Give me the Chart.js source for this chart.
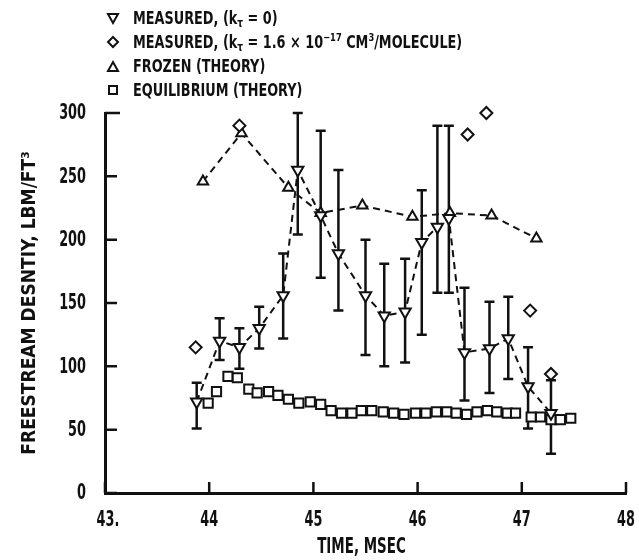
<!DOCTYPE html>
<html>
<head>
<meta charset="utf-8">
<script src="https://cdn.jsdelivr.net/npm/chart.js@4.4.0/dist/chart.umd.min.js"></script>
<style>
  body { margin: 0; background: #fff; }
  #wrap { position: relative; width: 639px; height: 560px; }
  #legend {
    position: absolute; left: 104px; top: 6px;
    font-family: "DejaVu Sans Condensed", "Liberation Sans Narrow", sans-serif;
    font-weight: bold; font-size: 17px; color: #111; line-height: 24px;
  }
  #legend .row { display: flex; align-items: center; white-space: nowrap; height: 24px; }
  #legend svg { width: 18px; height: 14px; margin-right: 11px; flex: none; }
  #legend .txt { display: inline-block; transform: scaleX(0.84); transform-origin: left center; }
  #legend sub { font-size: 12px; vertical-align: -3px; line-height: 0; }
  #legend sup { font-size: 11px; vertical-align: 7px; line-height: 0; }
</style>
</head>
<body>
<div id="wrap">
  <canvas id="densityChart" width="639" height="560"></canvas>
  <div id="legend">
    <div class="row"><svg viewBox="0 0 18 14"><polygon points="4,3 14,3 9,12" fill="#fff" stroke="#111" stroke-width="2"/></svg><span class="txt">MEASURED, (k<sub>τ</sub> = 0)</span></div>
    <div class="row"><svg viewBox="0 0 18 14"><polygon points="9,2 14,7 9,12 4,7" fill="#fff" stroke="#111" stroke-width="2"/></svg><span class="txt">MEASURED, (k<sub>τ</sub> = 1.6 × 10<sup>−17</sup> CM<sup>3</sup>/MOLECULE)</span></div>
    <div class="row"><svg viewBox="0 0 18 14"><polygon points="9,3 14,12 4,12" fill="#fff" stroke="#111" stroke-width="2"/></svg><span class="txt">FROZEN (THEORY)</span></div>
    <div class="row"><svg viewBox="0 0 18 14"><rect x="5" y="3" width="8" height="8" fill="#fff" stroke="#111" stroke-width="2"/></svg><span class="txt">EQUILIBRIUM (THEORY)</span></div>
  </div>
</div>
<script>
// Measured, k_tau = 0 (down triangles with error bars)
const measuredTime = [43.88, 44.10, 44.29, 44.48, 44.71, 44.85, 45.07, 45.24, 45.50, 45.68, 45.88, 46.04, 46.19, 46.30, 46.45, 46.69, 46.87, 47.06, 47.28];
const measuredValue = [72, 120, 115, 130, 156, 255, 219, 189, 156, 140, 143, 198, 210, 217, 111, 114, 122, 84, 63];
const measuredHigh = [87, 138, 130, 147, 189, 300, 286, 255, 200, 181, 185, 239, 290, 290, 162, 151, 155, 115, 89];
const measuredLow = [51, 105, 98, 114, 122, 204, 170, 144, 109, 100, 103, 125, 158, 158, 73, 79, 90, 51, 31];

// Measured, k_tau = 1.6e-17 (diamonds)
const diamondTime = [43.87, 44.29, 46.48, 46.66, 47.08, 47.28];
const diamondValue = [115, 290, 283, 300, 144, 94];

// Frozen theory (up triangles)
const frozenTime = [43.94, 44.31, 44.76, 45.07, 45.47, 45.95, 46.31, 46.71, 47.14];
const frozenValue = [246, 284, 241, 221, 227, 218, 221, 219, 201];

// Equilibrium theory (squares)
const equilTime = [43.99, 44.07, 44.18, 44.27, 44.38, 44.46, 44.57, 44.66, 44.76, 44.86, 44.97, 45.07, 45.17, 45.27, 45.37, 45.46, 45.56, 45.67, 45.77, 45.87, 45.98, 46.08, 46.18, 46.28, 46.37, 46.47, 46.57, 46.67, 46.76, 46.86, 46.94, 47.09, 47.18, 47.28, 47.37, 47.47];
const equilValue = [71, 80, 92, 91, 82, 79, 80, 77, 74, 71, 72, 70, 65, 63, 63, 65, 65, 64, 63, 62, 63, 63, 64, 64, 63, 62, 64, 65, 64, 63, 63, 60, 60, 58, 58, 59];

// Axis ticks
const xTicks = [43, 44, 45, 46, 47, 48];
const xTickLabels = ["43.", "44", "45", "46", "47", "48"];
const yTicks = [0, 50, 100, 150, 200, 250, 300];
const xTitle = "TIME, MSEC";
const yTitle = "FREESTREAM DESNTIY, LBM/FT³";

const ink = "#111";
const fontFamily = '"DejaVu Sans Condensed", "Liberation Sans Narrow", sans-serif';

function toPoints(xs, ys) {
  return xs.map((x, i) => ({ x: x, y: ys[i] }));
}

// Error bars, drawn under the markers
const errorBarPlugin = {
  id: "errorBars",
  beforeDatasetsDraw(chart) {
    const ctx = chart.ctx;
    const xs = chart.scales.x;
    const ys = chart.scales.y;
    ctx.save();
    ctx.strokeStyle = ink;
    ctx.lineWidth = 2.5;
    measuredTime.forEach((t, i) => {
      const px = xs.getPixelForValue(t);
      const top = ys.getPixelForValue(measuredHigh[i]);
      const bot = ys.getPixelForValue(measuredLow[i]);
      ctx.beginPath();
      ctx.moveTo(px, top);
      ctx.lineTo(px, bot);
      ctx.moveTo(px - 5, top);
      ctx.lineTo(px + 5, top);
      ctx.moveTo(px - 5, bot);
      ctx.lineTo(px + 5, bot);
      ctx.stroke();
    });
    ctx.restore();
  },
};

// Inward tick marks, condensed tick labels and x title
const axisDecorPlugin = {
  id: "axisDecor",
  afterDraw(chart) {
    const ctx = chart.ctx;
    const area = chart.chartArea;
    const xs = chart.scales.x;
    const ys = chart.scales.y;
    ctx.save();
    ctx.strokeStyle = ink;
    ctx.lineWidth = 2.5;
    ctx.beginPath();
    yTicks.forEach((v) => {
      const py = ys.getPixelForValue(v);
      ctx.moveTo(area.left, py);
      ctx.lineTo(area.left + (v === 300 ? 15 : 12), py);
    });
    xTicks.forEach((v) => {
      const px = xs.getPixelForValue(v);
      ctx.moveTo(px, area.bottom);
      ctx.lineTo(px, area.bottom - 11);
    });
    ctx.stroke();

    ctx.fillStyle = ink;
    ctx.font = "bold 21px " + fontFamily;
    ctx.textBaseline = "middle";
    ctx.textAlign = "right";
    yTicks.forEach((v) => {
      ctx.save();
      ctx.translate(area.left - 19, ys.getPixelForValue(v) + 1);
      ctx.scale(0.68, 1);
      ctx.fillText(String(v), 0, 0);
      ctx.restore();
    });
    ctx.textAlign = "center";
    xTicks.forEach((v, i) => {
      ctx.save();
      ctx.translate(xs.getPixelForValue(v) + (i === 0 ? 3 : 0), area.bottom + 28);
      ctx.scale(0.68, 1);
      ctx.fillText(xTickLabels[i], 0, 0);
      ctx.restore();
    });

    ctx.font = "bold 22px " + fontFamily;
    ctx.save();
    ctx.translate((area.left + area.right) / 2 - 4, area.bottom + 54);
    ctx.scale(0.68, 1);
    ctx.fillText(xTitle, 0, 0);
    ctx.restore();
    ctx.restore();
  },
};

new Chart(document.getElementById("densityChart"), {
  type: "scatter",
  data: {
    datasets: [
      {
        label: "MEASURED, (kτ = 0)",
        data: toPoints(measuredTime, measuredValue),
        showLine: true,
        borderColor: ink,
        borderWidth: 2,
        borderDash: [7, 5],
        pointStyle: "triangle",
        rotation: 180,
        pointRadius: 6.5,
        pointBorderWidth: 2,
        pointBackgroundColor: "#fff",
        pointBorderColor: ink,
        clip: false,
      },
      {
        label: "MEASURED, (kτ = 1.6 × 10⁻¹⁷ CM³/MOLECULE)",
        data: toPoints(diamondTime, diamondValue),
        showLine: false,
        pointStyle: "rectRot",
        pointRadius: 6,
        pointBorderWidth: 2,
        pointBackgroundColor: "#fff",
        pointBorderColor: ink,
        clip: false,
      },
      {
        label: "FROZEN (THEORY)",
        data: toPoints(frozenTime, frozenValue),
        showLine: true,
        borderColor: ink,
        borderWidth: 2,
        borderDash: [7, 5],
        pointStyle: "triangle",
        pointRadius: 6,
        pointBorderWidth: 2,
        pointBackgroundColor: "#fff",
        pointBorderColor: ink,
        clip: false,
      },
      {
        label: "EQUILIBRIUM (THEORY)",
        data: toPoints(equilTime, equilValue),
        showLine: false,
        pointStyle: "rect",
        pointRadius: 6.5,
        pointBorderWidth: 2,
        pointBackgroundColor: "#fff",
        pointBorderColor: ink,
        clip: false,
      },
    ],
  },
  options: {
    responsive: false,
    animation: false,
    events: [],
    layout: { padding: { top: 113, right: 13, bottom: 0, left: 0 } },
    scales: {
      x: {
        type: "linear",
        min: 43,
        max: 48,
        afterFit: (scale) => { scale.height = 67; },
        grid: { display: false, drawTicks: false },
        border: { display: true, width: 3, color: ink },
        ticks: { display: false },
      },
      y: {
        type: "linear",
        min: 0,
        max: 300,
        afterFit: (scale) => { scale.width = 105; },
        grid: { display: false, drawTicks: false },
        border: { display: true, width: 3, color: ink },
        ticks: { display: false },
        title: {
          display: true,
          text: yTitle,
          color: ink,
          padding: { top: 19, bottom: 0 },
          font: { family: fontFamily, weight: "bold", size: 19 },
        },
      },
    },
    plugins: {
      legend: { display: false },
      tooltip: { enabled: false },
    },
  },
  plugins: [errorBarPlugin, axisDecorPlugin],
});
</script>
</body>
</html>
